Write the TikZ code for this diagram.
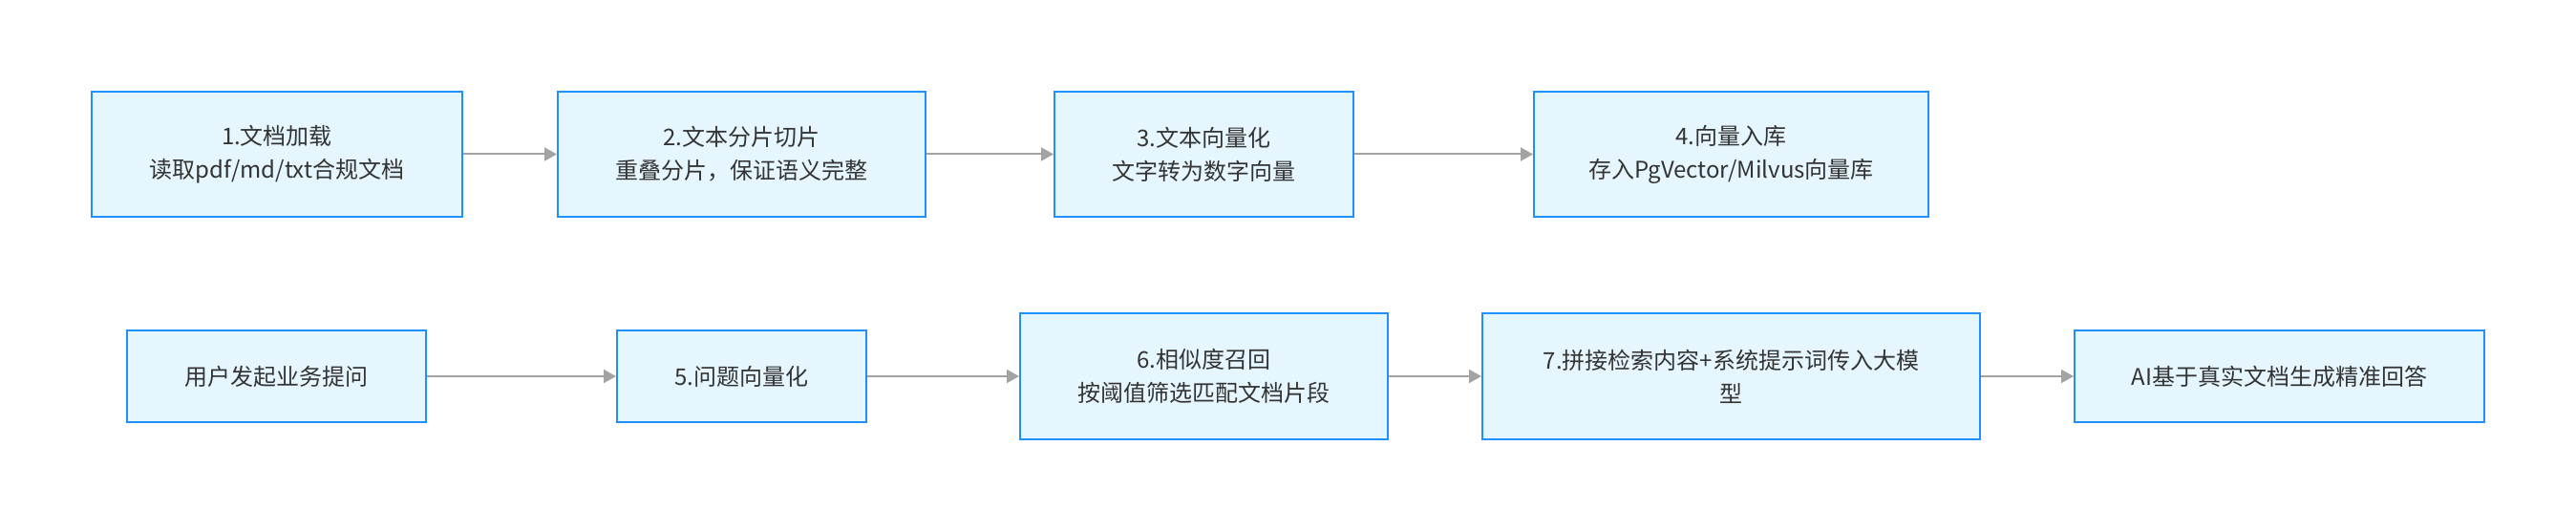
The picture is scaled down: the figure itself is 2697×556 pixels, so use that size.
\documentclass[tikz,border=0pt]{standalone}
\usepackage{fontspec}
\setmainfont{Noto Sans CJK SC}
\usetikzlibrary{arrows.meta}
\definecolor{boxfill}{HTML}{E6F6FF}
\definecolor{boxdraw}{HTML}{1E90FF}
\definecolor{arrowgray}{HTML}{A3A3A3}
\definecolor{txtcol}{HTML}{333333}
\begin{document}
\begin{tikzpicture}[x=1pt,y=-1pt,
  box/.style={draw=boxdraw, fill=boxfill, line width=2pt, text=txtcol,
    font=\fontsize{24}{35}\selectfont, align=center, inner sep=0pt},
  link/.style={draw=arrowgray, line width=2pt,
    -{Triangle[length=13pt,width=14pt,fill=arrowgray]}}]
\useasboundingbox[fill=white] (0,0) rectangle (2697,556);
% row 1
\node[box, minimum width=388pt, minimum height=131pt] (n1) at (290,161.5) {1.文档加载\\读取pdf/md/txt合规文档};
\node[box, minimum width=385pt, minimum height=131pt] (n2) at (776.5,161.5) {2.文本分片切片\\重叠分片，保证语义完整};
\node[box, minimum width=313pt, minimum height=131pt] (n3) at (1260.5,161.5) {3.文本向量化\\文字转为数字向量};
\node[box, minimum width=413pt, minimum height=131pt] (n4) at (1812.5,161.5) {4.向量入库\\存入PgVector/Milvus向量库};
% row 2
\node[box, minimum width=313pt, minimum height=96pt] (q) at (289.5,394) {用户发起业务提问};
\node[box, minimum width=261pt, minimum height=96pt] (n5) at (776.5,394) {5.问题向量化};
\node[box, minimum width=385pt, minimum height=132pt] (n6) at (1260.5,394) {6.相似度召回\\按阈值筛选匹配文档片段};
\node[box, minimum width=521pt, minimum height=132pt] (n7) at (1812.5,394) {7.拼接检索内容+系统提示词传入大模\\型};
\node[box, minimum width=429pt, minimum height=96pt] (n8) at (2386.5,394) {AI基于真实文档生成精准回答};
% connectors
\draw[link] (n1) -- (n2);
\draw[link] (n2) -- (n3);
\draw[link] (n3) -- (n4);
\draw[link] (q) -- (n5);
\draw[link] (n5) -- (n6);
\draw[link] (n6) -- (n7);
\draw[link] (n7) -- (n8);
\end{tikzpicture}
\end{document}
